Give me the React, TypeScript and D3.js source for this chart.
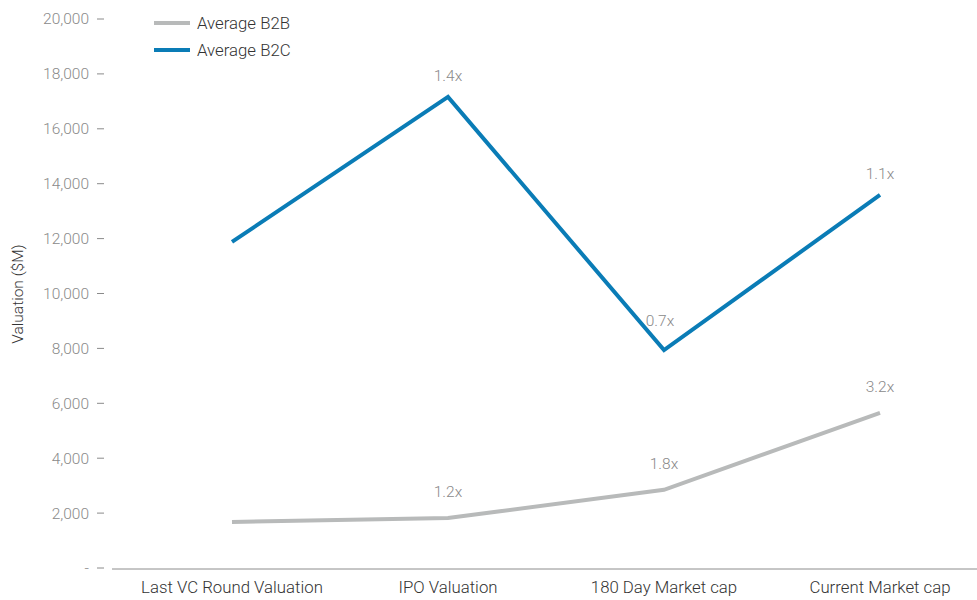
import React from "react";
import * as d3 from "d3";

const categories = ["Last VC Round Valuation", "IPO Valuation", "180 Day Market cap", "Current Market cap"];
const b2bValues = [1680, 1820, 2850, 5650];
const b2cValues = [11880, 17160, 7940, 13590];
const b2bLabels = ["", "1.2x", "1.8x", "3.2x"];
const b2cLabels = ["", "1.4x", "0.7x", "1.1x"];
const yTicks = [0, 2000, 4000, 6000, 8000, 10000, 12000, 14000, 16000, 18000, 20000];
const seriesNames = ["Average B2B", "Average B2C"];

const W = 977, H = 600;
const FONT = "Roboto, 'Liberation Sans', sans-serif";
const B2B_COLOR = "#b8baba";
const B2C_COLOR = "#0a7cb6";

export default function App() {
  const x = d3.scalePoint<string>().domain(categories).range([232, 880]);
  const y = d3.scaleLinear().domain([0, 20000]).range([568, 19]);
  const line = d3.line<number>().x((_, i) => x(categories[i])!).y((d) => y(d));
  const fmt = (v: number) => (v === 0 ? "-" : d3.format(",")(v));

  return (
    <svg width={W} height={H} style={{ position: "absolute", left: 0, top: 0, fontFamily: FONT }}>
      <rect width={W} height={H} fill="#fff" />
      {yTicks.map((t) => (
        <g key={t}>
          <text x={89} y={y(t)} dy="0.35em" textAnchor="end" fontSize={15.5} fontWeight={300} fill="#8a8a8a">
            {fmt(t)}
          </text>
          <line x1={97} x2={104} y1={y(t)} y2={y(t)} stroke="#8a8a8a" strokeWidth={1} />
        </g>
      ))}
      <line x1={112} x2={977} y1={569} y2={569} stroke="#8c8c8c" strokeWidth={1} />
      {categories.map((c) => (
        <text key={c} x={x(c)} y={593} textAnchor="middle" fontSize={16.8} fontWeight={300} fill="#333">
          {c}
        </text>
      ))}
      <text transform={`translate(23,294) rotate(-90)`} textAnchor="middle" fontSize={15.5} fontWeight={300} fill="#333">
        Valuation ($M)
      </text>
      <path d={line(b2bValues)!} fill="none" stroke={B2B_COLOR} strokeWidth={4} />
      <path d={line(b2cValues)!} fill="none" stroke={B2C_COLOR} strokeWidth={4} strokeLinejoin="miter" />
      {b2cLabels.map((l, i) => l && (
        <text key={"c" + i}
          x={x(categories[i])! - (b2cValues[i] < b2cValues[i - 1] ? 4 : 0)}
          y={y(b2cValues[i]) - (b2cValues[i] < b2cValues[i - 1] ? 24 : 16)}
          textAnchor="middle" fontSize={15.5} fontWeight={300} fill="#8a8a8a">
          {l}
        </text>
      ))}
      {b2bLabels.map((l, i) => l && (
        <text key={"b" + i} x={x(categories[i])} y={y(b2bValues[i]) - 21} textAnchor="middle" fontSize={15.5} fontWeight={300} fill="#8a8a8a">
          {l}
        </text>
      ))}
      {seriesNames.map((s, i) => (
        <g key={s}>
          <line x1={154} x2={190} y1={23 + i * 27} y2={23 + i * 27} stroke={i === 0 ? B2B_COLOR : B2C_COLOR} strokeWidth={4} />
          <text x={197} y={23 + i * 27} dy="0.35em" fontSize={16.8} fontWeight={300} fill="#333">
            {s}
          </text>
        </g>
      ))}
    </svg>
  );
}
